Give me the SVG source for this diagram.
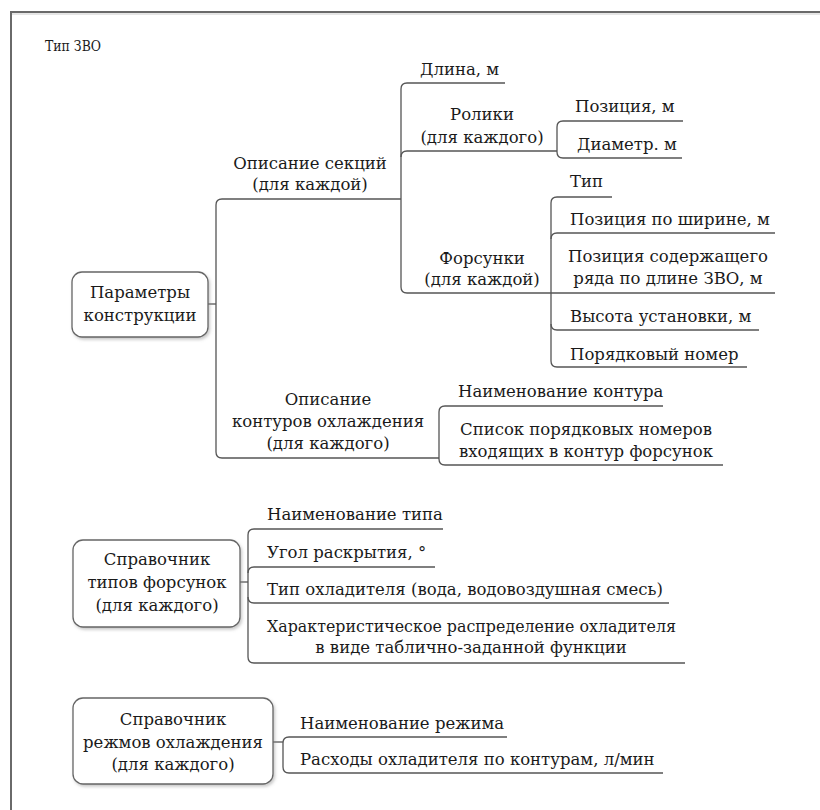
<svg xmlns="http://www.w3.org/2000/svg" width="820" height="810" viewBox="0 0 820 810">
<defs>
<filter id="sh" x="-10%" y="-10%" width="125%" height="130%">
<feDropShadow dx="1.5" dy="2" stdDeviation="1.5" flood-color="#888" flood-opacity="0.45"/>
</filter>
<style>
.t text{font-family:"DejaVu Serif","Liberation Serif",serif;font-size:16.5px;fill:#1a1a1a}
.c{text-anchor:middle}
.box{fill:#fff;stroke:#666;stroke-width:1.3;filter:url(#sh)}
.ln{fill:none;stroke:#555;stroke-width:1.3}
.frame{fill:none;stroke:#6a6a6a;stroke-width:2}
</style>
</defs>
<rect width="820" height="810" fill="#fff"/>
<path class="frame" d="M11,812 V12 H822"/>
<line x1="12" y1="14" x2="822" y2="14" stroke="#ccc" stroke-width="1"/>

<g id="connectors">
<path class="ln" d="M208,304 H216"/>
<path class="ln" d="M401,199 H222 Q216,199 216,205 V452 Q216,458 222,458 H439"/>
<path class="ln" d="M505,83 H407 Q401,83 401,89 V287 Q401,293 407,293 H775"/>
<path class="ln" d="M557,151 H407 Q401,151 401,157"/>
<path class="ln" d="M683,121 H563 Q557,121 557,127 V152 Q557,158 563,158 H682"/>
<path class="ln" d="M612,197 H557 Q551,197 551,203 V361 Q551,367 557,367 H747"/>
<path class="ln" d="M775,233 H557 Q551,233 551,239"/>
<path class="ln" d="M551,324 Q551,330 557,330 H759"/>
<path class="ln" d="M663,406 H445 Q439,406 439,412 V459 Q439,465 445,465 H723"/>
<path class="ln" d="M240,582 H248"/>
<path class="ln" d="M443,529 H254 Q248,529 248,535 V657 Q248,663 254,663 H685"/>
<path class="ln" d="M435,567 H254 Q248,567 248,573"/>
<path class="ln" d="M248,597 Q248,603 254,603 H669"/>
<path class="ln" d="M273,742 H283"/>
<path class="ln" d="M507,737 H289 Q283,737 283,743 V767 Q283,773 289,773 H663"/>
</g>

<g class="t">
<text x="45" y="51" style="font-size:14px" textLength="56" lengthAdjust="spacingAndGlyphs">Тип ЗВО</text>
<g id="params">
<rect class="box" x="72" y="272" width="136" height="65" rx="10"/>
<text class="c" x="140" y="298">Параметры</text>
<text class="c" x="140" y="321">конструкции</text>
</g>
<g id="sections">
<text class="c" x="310" y="169">Описание секций</text>
<text class="c" x="310" y="190">(для каждой)</text>
</g>
<g id="contours">
<text class="c" x="328" y="405">Описание</text>
<text class="c" x="328" y="427">контуров охлаждения</text>
<text class="c" x="328" y="449">(для каждого)</text>
</g>
<g id="length"><text x="420" y="75">Длина, м</text></g>
<g id="rollers">
<text class="c" x="482" y="120">Ролики</text>
<text class="c" x="482" y="143">(для каждого)</text>
</g>
<g id="nozzles">
<text class="c" x="482" y="264">Форсунки</text>
<text class="c" x="482" y="285">(для каждой)</text>
</g>
<g id="roll-pos"><text x="575" y="112">Позиция, м</text></g>
<g id="roll-diam"><text x="577" y="150">Диаметр. м</text></g>
<g id="noz-type"><text x="570" y="187">Тип</text></g>
<g id="noz-width"><text x="570" y="225">Позиция по ширине, м</text></g>
<g id="noz-row">
<text class="c" x="668" y="262">Позиция содержащего</text>
<text class="c" x="668" y="284">ряда по длине ЗВО, м</text>
</g>
<g id="noz-height"><text x="570" y="322">Высота установки, м</text></g>
<g id="noz-num"><text x="570" y="360">Порядковый номер</text></g>
<g id="cont-name"><text x="458" y="397">Наименование контура</text></g>
<g id="cont-list">
<text class="c" x="586" y="435">Список порядковых номеров</text>
<text class="c" x="586" y="457">входящих в контур форсунок</text>
</g>

<g id="types">
<rect class="box" x="73" y="540" width="167" height="87" rx="10"/>
<text class="c" x="157" y="565">Справочник</text>
<text class="c" x="157" y="588">типов форсунок</text>
<text class="c" x="157" y="611">(для каждого)</text>
</g>
<g id="type-name"><text x="267" y="520">Наименование типа</text></g>
<g id="type-angle"><text x="267" y="558">Угол раскрытия, °</text></g>
<g id="type-cool"><text x="267" y="595">Тип охладителя (вода, водовоздушная смесь)</text></g>
<g id="type-dist">
<text x="267" y="632" textLength="409" lengthAdjust="spacingAndGlyphs">Характеристическое распределение охладителя</text>
<text class="c" x="471" y="653">в виде таблично-заданной функции</text>
</g>

<g id="modes">
<rect class="box" x="73" y="698" width="200" height="86" rx="10"/>
<text class="c" x="173" y="725">Справочник</text>
<text class="c" x="173" y="748">режмов охлаждения</text>
<text class="c" x="173" y="770">(для каждого)</text>
</g>
<g id="mode-name"><text x="300" y="729">Наименование режима</text></g>
<g id="mode-flow"><text x="300" y="765">Расходы охладителя по контурам, л/мин</text></g>
</g>
</svg>
